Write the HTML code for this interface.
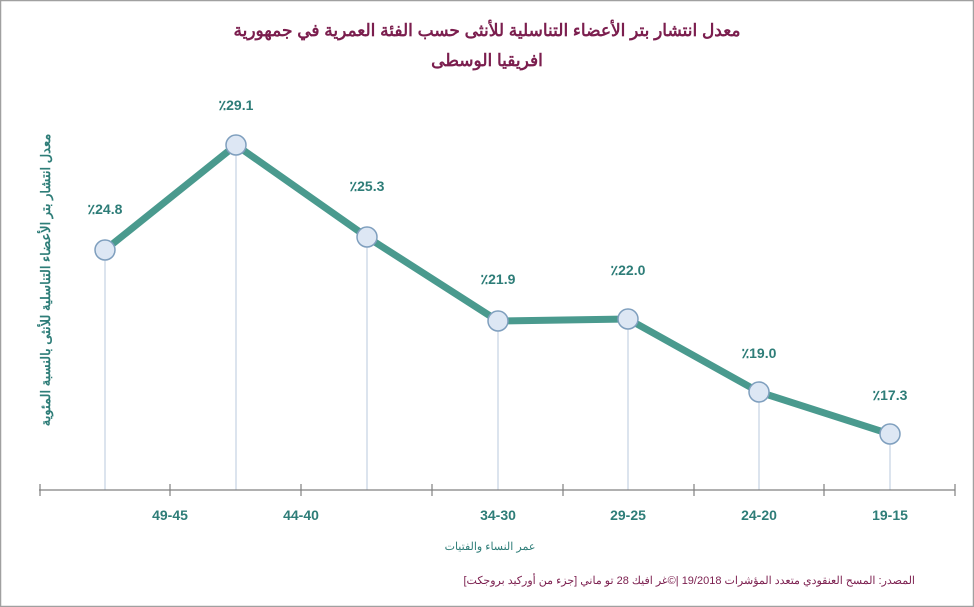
<!DOCTYPE html>
<html><head><meta charset="utf-8"><style>
body{margin:0;background:#fff}
svg{display:block}
text{font-family:"Liberation Sans","Noto Sans CJK SC",sans-serif}
</style></head><body>
<svg width="974" height="607" viewBox="0 0 974 607">
<rect x="0.5" y="0.5" width="973" height="606" fill="#fff" stroke="#a0a0a0" stroke-width="1.5"/>
<text x="487" y="36" text-anchor="middle" font-size="17" font-weight="bold" fill="#7b1e4e">معدل انتشار بتر الأعضاء التناسلية للأنثى حسب الفئة العمرية في جمهورية</text>
<text x="487" y="66" text-anchor="middle" font-size="17" font-weight="bold" fill="#7b1e4e">افريقيا الوسطى</text>
<text transform="translate(50,280) rotate(-90)" text-anchor="middle" font-size="13" font-weight="bold" fill="#2e7d78">معدل انتشار بتر الأعضاء التناسلية للأنثى بالنسبة المئوية</text>
<g stroke="#b8c8dc" stroke-width="1">
<line x1="105" y1="250" x2="105" y2="490"/><line x1="236" y1="145" x2="236" y2="490"/><line x1="367" y1="237" x2="367" y2="490"/><line x1="498" y1="321" x2="498" y2="490"/><line x1="628" y1="319" x2="628" y2="490"/><line x1="759" y1="392" x2="759" y2="490"/><line x1="890" y1="434" x2="890" y2="490"/>
</g>
<g stroke="#808080" stroke-width="1.2">
<line x1="39" y1="490" x2="955" y2="490"/>
<line x1="40" y1="484" x2="40" y2="496"/><line x1="170" y1="484" x2="170" y2="496"/><line x1="301" y1="484" x2="301" y2="496"/><line x1="432" y1="484" x2="432" y2="496"/><line x1="563" y1="484" x2="563" y2="496"/><line x1="694" y1="484" x2="694" y2="496"/><line x1="824" y1="484" x2="824" y2="496"/><line x1="955" y1="484" x2="955" y2="496"/>
</g>
<polyline points="105,250 236,145 367,237 498,321 628,319 759,392 890,434" fill="none" stroke="#4a9a8e" stroke-width="7" stroke-linejoin="round"/>
<g fill="#dde7f4" stroke="#7f9fbe" stroke-width="1.5">
<circle cx="105" cy="250" r="10"/><circle cx="236" cy="145" r="10"/><circle cx="367" cy="237" r="10"/><circle cx="498" cy="321" r="10"/><circle cx="628" cy="319" r="10"/><circle cx="759" cy="392" r="10"/><circle cx="890" cy="434" r="10"/>
</g>
<g font-size="14" font-weight="bold" fill="#2e7d78" text-anchor="middle">
<text x="105" y="214">٪24.8</text><text x="236" y="110">٪29.1</text><text x="367" y="191">٪25.3</text><text x="498" y="284">٪21.9</text><text x="628" y="275">٪22.0</text><text x="759" y="358">٪19.0</text><text x="890" y="400">٪17.3</text>
<text x="170" y="520">49-45</text><text x="301" y="520">44-40</text><text x="498" y="520">34-30</text><text x="628" y="520">29-25</text><text x="759" y="520">24-20</text><text x="890" y="520">19-15</text>
</g>
<text x="490" y="550" text-anchor="middle" font-size="11" fill="#2e7d78">عمر النساء والفتيات</text>
<text x="915" y="584" text-anchor="end" font-size="11" fill="#7b1e4e">المصدر: المسح العنقودي متعدد المؤشرات 19/2018 |©غر افيك 28 تو ماني [جزء من أوركيد بروجكت]</text>
</svg>
</body></html>
